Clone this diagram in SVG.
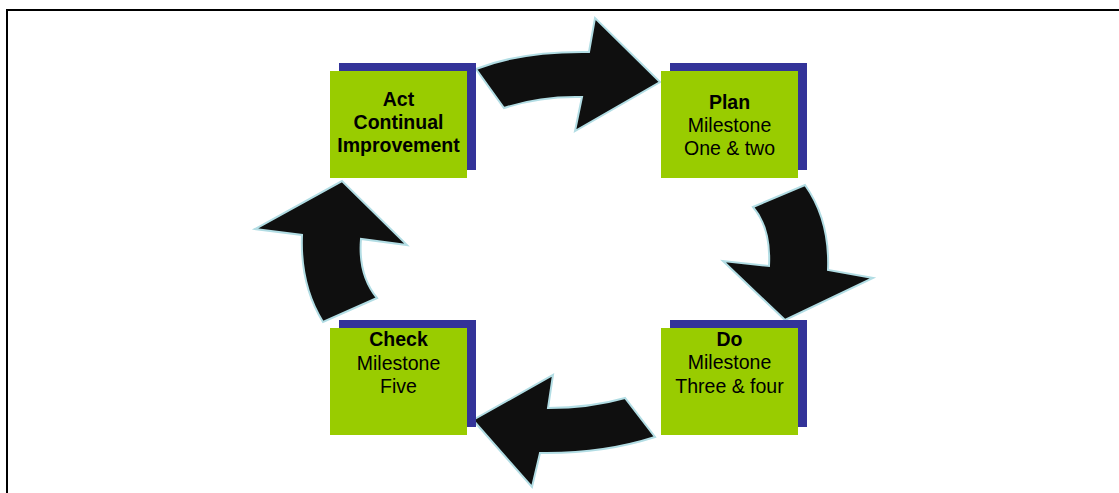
<svg xmlns="http://www.w3.org/2000/svg" width="1119" height="493" viewBox="0 0 1119 493">
  <style>
    .shadow { fill: #333399; }
    .card { fill: #99cc00; }
    .label { font-family: "Liberation Sans", Arial, sans-serif; font-size: 19.5px; fill: #000; text-anchor: middle; }
    .title { font-weight: bold; }
    .arrow { fill: #0f0f0f; stroke: #b2dde4; stroke-width: 2; stroke-linejoin: miter; }
    .frame { fill: none; stroke: #000; stroke-width: 2; }
  </style>

  <rect width="1119" height="493" fill="#fff"/>

  <!-- open frame: top and left edges only -->
  <path class="frame" d="M 7,493 L 7,10 L 1119,10"/>

  <!-- curved cycle arrows -->
  <g id="connectors">
    <!-- Act -> Plan -->
    <path class="arrow" d="M 476,69 Q 522,51 589,52 L 595,18 L 660,82 L 575,131 L 582,97 Q 540,96 504,108 Z"/>
    <!-- Plan -> Do -->
    <path class="arrow" d="M 753,207 L 805,185 Q 830,220 828,270 L 873,278 L 785,320 L 723,261 L 769,266 Q 771,228 753,207 Z"/>
    <!-- Do -> Check -->
    <path class="arrow" d="M 625,398 Q 590,408 548,408 L 553,375 L 473,420 L 532,487 L 540,453 Q 602,454 655,437 Z"/>
    <!-- Check -> Act -->
    <path class="arrow" d="M 323,322 Q 300,285 302,235 L 255,229 L 342,181 L 407,245 L 361,239 Q 358,275 377,298 Z"/>
  </g>

  <g id="act">
    <rect class="shadow" x="339" y="63" width="137" height="107"/>
    <rect class="card" x="330" y="71" width="137" height="107"/>
    <text class="label title" x="398.5" y="106">Act</text>
    <text class="label title" x="398.5" y="129">Continual</text>
    <text class="label title" x="398.5" y="152">Improvement</text>
  </g>

  <g id="plan">
    <rect class="shadow" x="670" y="63" width="137" height="107"/>
    <rect class="card" x="661" y="71" width="137" height="107"/>
    <text class="label title" x="729.5" y="108.5">Plan</text>
    <text class="label" x="729.5" y="131.5">Milestone</text>
    <text class="label" x="729.5" y="154.5">One &amp; two</text>
  </g>

  <g id="do">
    <rect class="shadow" x="670" y="320" width="137" height="107"/>
    <rect class="card" x="661" y="328" width="137" height="107"/>
    <text class="label title" x="729.5" y="345.5">Do</text>
    <text class="label" x="729.5" y="369">Milestone</text>
    <text class="label" x="729.5" y="392.5">Three &amp; four</text>
  </g>

  <g id="check">
    <rect class="shadow" x="339" y="320" width="137" height="107"/>
    <rect class="card" x="330" y="328" width="137" height="107"/>
    <text class="label title" x="398.5" y="345.5">Check</text>
    <text class="label" x="398.5" y="369.5">Milestone</text>
    <text class="label" x="398.5" y="392.5">Five</text>
  </g>
</svg>
